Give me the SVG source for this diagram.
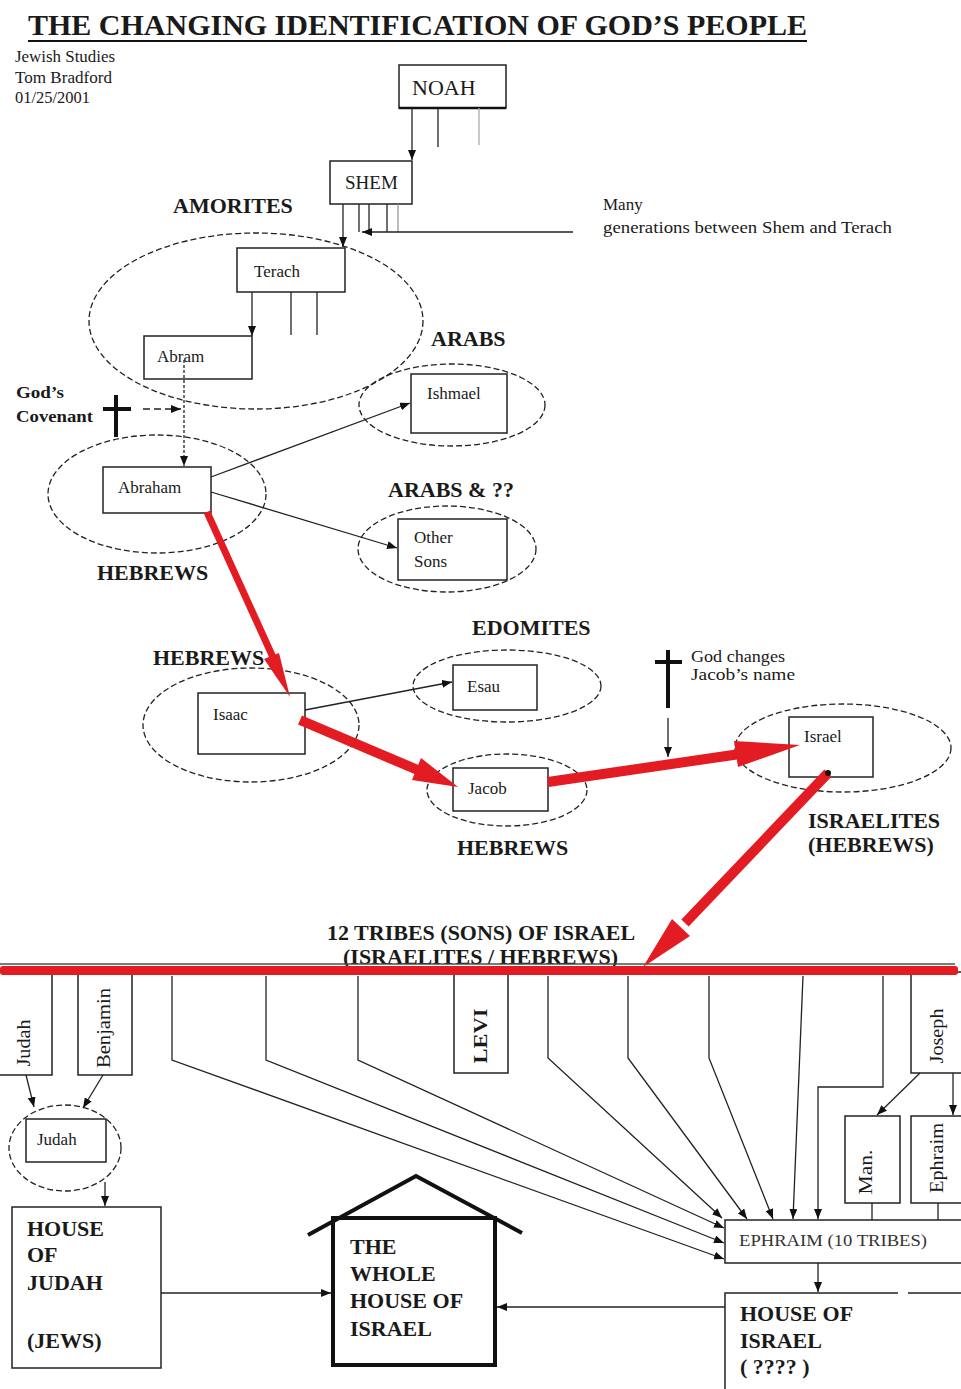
<svg xmlns="http://www.w3.org/2000/svg" width="961" height="1389" viewBox="0 0 961 1389">
<defs>
<style>
text{font-family:"Liberation Serif","Times New Roman",serif;fill:#1a1a1a}
.t{font-size:17px}
.b{font-size:22px;font-weight:bold}
.r{font-size:19px}
.box{fill:#fff;stroke:#222;stroke-width:1.5}
.ell{fill:none;stroke:#222;stroke-width:1.3;stroke-dasharray:6 3}
.c{fill:none;stroke:#222;stroke-width:1.3}
.ca{fill:none;stroke:#222;stroke-width:1.3;marker-end:url(#ah)}
.red{fill:#e31b23;stroke:none}
.rl{stroke:#e31b23;stroke-width:10;fill:none}
</style>
<marker id="ah" viewBox="0 0 10 8" refX="10" refY="4" markerWidth="10" markerHeight="8" markerUnits="userSpaceOnUse" orient="auto">
<path d="M0,0 L10,4 L0,8 z" fill="#111"/>
</marker>
</defs>
<rect width="961" height="1389" fill="#fff"/>

<g id="header">
<text x="28" y="35" style="font-size:30px;font-weight:bold" textLength="779" lengthAdjust="spacingAndGlyphs">THE CHANGING IDENTIFICATION OF GOD’S PEOPLE</text>
<line x1="28" y1="41" x2="807" y2="41" stroke="#111" stroke-width="2"/>
<text class="t" x="15" y="62" textLength="100" lengthAdjust="spacingAndGlyphs">Jewish Studies</text>
<text class="t" x="15" y="83" textLength="97" lengthAdjust="spacingAndGlyphs">Tom Bradford</text>
<text class="t" x="15" y="103" textLength="75" lengthAdjust="spacingAndGlyphs">01/25/2001</text>
</g>

<g id="note-generations">
<text class="t" x="603" y="210">Many</text>
<text class="t" x="603" y="233" textLength="289" lengthAdjust="spacingAndGlyphs">generations between Shem and Terach</text>
</g>

<g id="labels">
<text class="b" x="173" y="213">AMORITES</text>
<text class="b" x="431" y="346">ARABS</text>
<text class="b" x="388" y="497">ARABS &amp; ??</text>
<text class="b" x="97" y="580">HEBREWS</text>
<text class="b" x="472" y="635">EDOMITES</text>
<text class="b" x="153" y="665">HEBREWS</text>
<text class="b" x="457" y="855">HEBREWS</text>
<text class="b" x="808" y="828">ISRAELITES</text>
<text class="b" x="808" y="852">(HEBREWS)</text>
<text class="b" x="327" y="940">12 TRIBES (SONS) OF ISRAEL</text>
<text class="b" x="343" y="964">(ISRAELITES / HEBREWS)</text>
</g>

<g id="covenant">
<text x="16" y="398" style="font-size:17px;font-weight:bold" textLength="48" lengthAdjust="spacingAndGlyphs">God’s</text>
<text x="16" y="422" style="font-size:17px;font-weight:bold" textLength="77" lengthAdjust="spacingAndGlyphs">Covenant</text>
<line x1="116" y1="395" x2="116" y2="437" stroke="#111" stroke-width="4"/>
<line x1="103" y1="409" x2="131" y2="409" stroke="#111" stroke-width="4"/>
</g>

<g id="name-change">
<line x1="668" y1="650" x2="668" y2="708" stroke="#111" stroke-width="4"/>
<line x1="655" y1="662" x2="682" y2="662" stroke="#111" stroke-width="4"/>
<text class="t" x="691" y="662" textLength="94" lengthAdjust="spacingAndGlyphs">God changes</text>
<text class="t" x="691" y="680" textLength="104" lengthAdjust="spacingAndGlyphs">Jacob’s name</text>
</g>

<g id="ellipses">
<ellipse class="ell" cx="256" cy="321" rx="167" ry="88"/>
<ellipse class="ell" cx="452" cy="405" rx="93" ry="41"/>
<ellipse class="ell" cx="157" cy="494" rx="109" ry="59"/>
<ellipse class="ell" cx="447" cy="549" rx="89" ry="43"/>
<ellipse class="ell" cx="251" cy="725" rx="108" ry="57"/>
<ellipse class="ell" cx="507" cy="686" rx="94" ry="36"/>
<ellipse class="ell" cx="507" cy="790" rx="80" ry="36"/>
<ellipse class="ell" cx="843" cy="748" rx="108" ry="44"/>
<ellipse class="ell" cx="65" cy="1148" rx="56" ry="43"/>
</g>

<g id="noah"><rect class="box" x="399" y="65" width="107" height="43"/><line x1="399" y1="108" x2="506" y2="108" stroke="#111" stroke-width="2.5"/><text x="412" y="95" style="font-size:22px">NOAH</text></g>
<g id="shem"><rect class="box" x="330" y="161" width="82" height="43"/><text class="r" x="345" y="189">SHEM</text></g>
<g id="terach"><rect class="box" x="237" y="248" width="108" height="44"/><text class="t" x="254" y="277">Terach</text></g>
<g id="abram"><rect class="box" x="144" y="336" width="108" height="43"/><text class="t" x="157" y="362">Abram</text></g>
<g id="ishmael"><rect class="box" x="411" y="374" width="96" height="59"/><text class="t" x="427" y="399">Ishmael</text></g>
<g id="abraham"><rect class="box" x="103" y="467" width="108" height="46"/><text class="t" x="118" y="493">Abraham</text></g>
<g id="other-sons"><rect class="box" x="398" y="519" width="109" height="61"/><text class="t" x="414" y="543">Other</text><text class="t" x="414" y="567">Sons</text></g>
<g id="isaac"><rect class="box" x="198" y="693" width="107" height="61"/><text class="t" x="213" y="720">Isaac</text></g>
<g id="esau"><rect class="box" x="453" y="665" width="84" height="45"/><text class="t" x="467" y="692">Esau</text></g>
<g id="jacob"><rect class="box" x="453" y="768" width="95" height="43"/><text class="t" x="468" y="794">Jacob</text></g>
<g id="israel"><rect class="box" x="789" y="717" width="84" height="60"/><text class="t" x="804" y="742">Israel</text></g>

<g id="tribe-judah"><rect class="box" x="-2" y="972" width="54" height="103"/><text class="r" transform="translate(24,1043) rotate(-90)" text-anchor="middle" dy="6" textLength="47" lengthAdjust="spacingAndGlyphs">Judah</text></g>
<g id="tribe-benjamin"><rect class="box" x="78" y="972" width="54" height="103"/><text class="r" transform="translate(104,1028) rotate(-90)" text-anchor="middle" dy="6" textLength="80" lengthAdjust="spacingAndGlyphs">Benjamin</text></g>
<g id="tribe-levi"><rect class="box" x="454" y="972" width="54" height="101"/><text class="r" transform="translate(481,1036) rotate(-90)" text-anchor="middle" dy="6" style="font-weight:bold" textLength="55" lengthAdjust="spacingAndGlyphs">LEVI</text></g>
<g id="tribe-joseph"><rect class="box" x="911" y="972" width="54" height="101"/><text class="r" transform="translate(937,1036) rotate(-90)" text-anchor="middle" dy="6" textLength="55" lengthAdjust="spacingAndGlyphs">Joseph</text></g>
<g id="manasseh"><rect class="box" x="845" y="1116" width="55" height="87"/><text class="r" transform="translate(866,1172) rotate(-90)" text-anchor="middle" dy="6" textLength="45" lengthAdjust="spacingAndGlyphs">Man.</text></g>
<g id="ephraim-son"><rect class="box" x="911" y="1116" width="54" height="87"/><text class="r" transform="translate(937,1158) rotate(-90)" text-anchor="middle" dy="6" textLength="70" lengthAdjust="spacingAndGlyphs">Ephraim</text></g>
<g id="ephraim-10"><rect class="box" x="725" y="1220" width="240" height="43"/><text class="t" x="739" y="1246" textLength="188" lengthAdjust="spacingAndGlyphs" style="fill:#333">EPHRAIM (10 TRIBES)</text></g>
<g id="judah"><rect class="box" x="26" y="1119" width="80" height="43"/><text class="t" x="37" y="1145">Judah</text></g>
<g id="house-of-judah"><rect class="box" x="12" y="1207" width="149" height="161"/>
<text class="b" x="27" y="1236">HOUSE</text><text class="b" x="27" y="1262">OF</text><text class="b" x="27" y="1290">JUDAH</text><text class="b" x="27" y="1348">(JEWS)</text></g>
<g id="whole-house">
<rect x="333" y="1218" width="162" height="147" fill="#fff" stroke="#111" stroke-width="4"/>
<polyline points="308,1235 416,1176 522,1233" fill="none" stroke="#111" stroke-width="4"/>
<text class="b" x="350" y="1254">THE</text><text class="b" x="350" y="1281">WHOLE</text><text class="b" x="350" y="1308">HOUSE OF</text><text class="b" x="350" y="1336">ISRAEL</text></g>
<g id="house-of-israel">
<path d="M725,1389 V1293 H898 M908,1293 H961" fill="none" stroke="#222" stroke-width="1.5"/>
<text class="b" x="740" y="1321">HOUSE OF</text><text class="b" x="740" y="1348">ISRAEL</text><text class="b" x="740" y="1374">( ???? )</text></g>

<g id="connectors">
<line class="ca" x1="412" y1="108" x2="412" y2="160"/>
<line class="c" x1="438" y1="108" x2="438" y2="147"/>
<line class="c" x1="479" y1="108" x2="479" y2="145" style="stroke:#aaa"/>
<line class="ca" x1="343" y1="204" x2="343" y2="247"/>
<line class="c" x1="359" y1="204" x2="359" y2="232"/>
<line class="c" x1="369" y1="204" x2="369" y2="232"/>
<line class="c" x1="387" y1="204" x2="387" y2="232"/>
<line class="c" x1="398" y1="204" x2="398" y2="232" style="stroke:#999"/>
<line class="ca" x1="573" y1="232" x2="362" y2="232"/>
<line class="ca" x1="252" y1="292" x2="252" y2="336"/>
<line class="c" x1="291" y1="292" x2="291" y2="335"/>
<line class="c" x1="317" y1="292" x2="317" y2="335"/>
<line class="ca" x1="184" y1="360" x2="184" y2="466" style="stroke-dasharray:3 2"/>
<line class="ca" x1="143" y1="409" x2="181" y2="409" style="stroke-dasharray:7 4"/>
<line class="ca" x1="211" y1="477" x2="410" y2="403"/>
<line class="ca" x1="211" y1="492" x2="397" y2="548"/>
<line class="ca" x1="305" y1="710" x2="452" y2="682"/>
<line class="ca" x1="668" y1="718" x2="668" y2="757"/>
<polyline class="ca" points="172,976 172,1060 724,1259"/>
<polyline class="ca" points="266,976 266,1060 724,1243"/>
<polyline class="ca" points="358,976 358,1060 724,1228"/>
<polyline class="ca" points="548,976 548,1058 722,1218"/>
<polyline class="ca" points="628,976 628,1058 747,1219"/>
<polyline class="ca" points="709,976 709,1058 773,1219"/>
<polyline class="ca" points="803,976 793,1219"/>
<polyline class="ca" points="883,976 883,1087 818,1087 818,1219"/>
<line class="ca" x1="920" y1="1073" x2="877" y2="1115"/>
<line class="ca" x1="953" y1="1073" x2="953" y2="1115"/>
<line class="c" x1="872" y1="1203" x2="872" y2="1220"/>
<line class="c" x1="938" y1="1203" x2="938" y2="1220"/>
<line class="ca" x1="818" y1="1263" x2="818" y2="1292"/>
<line class="ca" x1="26" y1="1075" x2="34" y2="1107"/>
<line class="ca" x1="103" y1="1075" x2="83" y2="1108"/>
<line class="ca" x1="105" y1="1182" x2="105" y2="1206"/>
<line class="ca" x1="161" y1="1293" x2="331" y2="1293"/>
<line class="ca" x1="725" y1="1307" x2="497" y2="1307"/>
<line x1="0" y1="964" x2="955" y2="964" stroke="#444" stroke-width="2" opacity="0.7"/>
<rect class="red" x="0" y="966" width="958" height="9" rx="3"/>
<line x1="207" y1="512" x2="276" y2="664" stroke="#e31b23" stroke-width="7"/>
<polygon class="red" points="279,653 264,659 290,697"/>
<line class="rl" x1="300" y1="720" x2="420" y2="771"/>
<polygon class="red" points="412,780 421,758 458,787"/>
<line class="rl" x1="548" y1="782" x2="740" y2="754"/>
<polygon class="red" points="738,767 734,741 800,745"/>
<line class="rl" x1="828" y1="773" x2="685" y2="923"/>
<polygon class="red" points="690,936 672,919 643,967"/>
<circle cx="828" cy="773" r="3" fill="#111"/>
</g>
</svg>
